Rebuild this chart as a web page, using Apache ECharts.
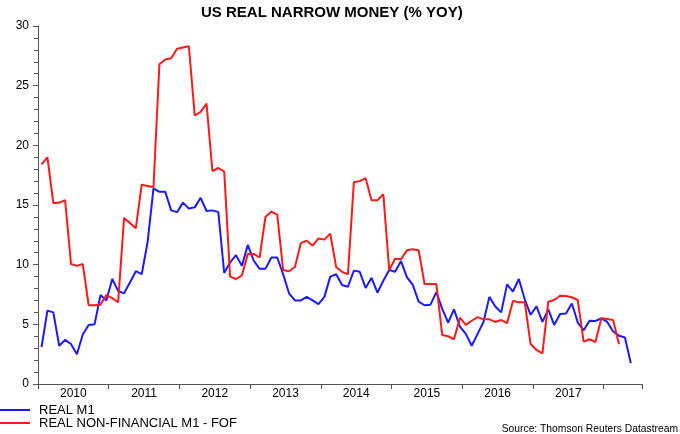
<!DOCTYPE html>
<html>
<head>
<meta charset="utf-8">
<script src="https://cdn.jsdelivr.net/npm/echarts@6/dist/echarts.min.js"></script>
<style>
html,body{margin:0;padding:0;background:#fff;}
#chart{width:680px;height:434px;}
</style>
</head>
<body>
<div id="chart"></div>
<script>
// Monthly data, Jan 2010 onwards
var startYear = 2010;
var yearLabels = ['2010','2011','2012','2013','2014','2015','2016','2017'];

var realM1 = [
  3.1, 6.15, 6.0, 3.2, 3.7, 3.35, 2.5, 4.15, 4.95, 5.0, 7.45, 7.0,
  8.8, 7.8, 7.6, 8.5, 9.45, 9.2, 11.9, 16.4, 16.1, 16.1, 14.55, 14.4,
  15.2, 14.7, 14.8, 15.6, 14.5, 14.55, 14.4, 9.3, 10.2, 10.8, 9.9, 11.65,
  10.35, 9.65, 9.65, 10.6, 10.6, 9.2, 7.6, 7.0, 7.0, 7.3, 7.0, 6.7,
  7.3, 9.0, 9.2, 8.3, 8.15, 9.5, 9.4, 8.05, 8.9, 7.65, 8.65, 9.55,
  9.4, 10.3, 8.95, 8.3, 6.9, 6.6, 6.65, 7.7, 6.3, 5.15, 6.25, 4.8,
  4.2, 3.2, 4.2, 5.2, 7.3, 6.5, 6.0, 8.35, 7.75, 8.8, 7.1, 5.8,
  6.5, 5.2, 6.25, 4.95, 5.87, 5.9, 6.75, 5.15, 4.5, 5.3, 5.28, 5.5,
  5.2, 4.4, 4.05, 3.9, 1.75
];

var realNonFinM1 = [
  18.4, 19.0, 15.15, 15.2, 15.4, 10.05, 9.9, 10.05, 6.6, 6.6, 6.65, 7.45,
  7.2, 6.85, 13.9, 13.5, 13.05, 16.7, 16.6, 16.5, 26.8, 27.2, 27.3, 28.1,
  28.2, 28.3, 22.5, 22.8, 23.5, 17.85, 18.1, 17.8, 9.0, 8.8, 9.1, 10.9,
  10.9, 10.6, 14.0, 14.45, 14.2, 9.55, 9.45, 9.8, 11.8, 12.0, 11.6, 12.2,
  12.1, 12.6, 9.8, 9.4, 9.2, 16.9, 17.0, 17.25, 15.4, 15.4, 15.9, 9.55,
  10.5, 10.45, 11.2, 11.3, 11.2, 8.38, 8.38, 8.38, 4.1, 4.0, 3.75, 5.56,
  4.95, 5.3, 5.6, 5.42, 5.42, 5.2, 5.36, 5.1, 6.96, 6.85, 6.85, 3.35,
  2.85, 2.57, 6.9, 7.04, 7.4, 7.38, 7.27, 7.04, 3.55, 3.75, 3.52, 5.5,
  5.45, 5.36, 3.33
];

// month position of each observation (months since Jan 2010, plotted late in the month)
function toPoints(arr) {
  return arr.map(function (v, i) { return [i + 0.6, v]; });
}

var yearTicks = [];
for (var k = 0; k <= yearLabels.length; k++) yearTicks.push(k * 12);
var axisEnd = 102.5;
var labelPos = yearLabels.map(function (y, k) { return k * 12 + 6; });

var chart = echarts.init(document.getElementById('chart'), null, {renderer: 'canvas'});
var FONT = 'Liberation Sans, Arial, sans-serif';

chart.setOption({
  animation: false,
  backgroundColor: '#ffffff',
  title: {
    text: 'US REAL NARROW MONEY (% YOY)',
    left: 196,
    top: 0,
    textStyle: {fontFamily: FONT, fontSize: 15, fontWeight: 'bold', color: '#000'}
  },
  legend: {
    orient: 'vertical',
    left: 0,
    top: 403.5,
    padding: 0,
    itemWidth: 30,
    itemHeight: 2,
    itemGap: 0,
    icon: 'rect',
    textStyle: {fontFamily: FONT, fontSize: 13, color: '#000', lineHeight: 11.5, padding: [0, 0, 0, 4]},
    data: ['REAL M1', 'REAL NON-FINANCIAL M1 - FOF']
  },
  graphic: [{
    type: 'text',
    right: 2,
    top: 424,
    style: {text: 'Source: Thomson Reuters Datastream', font: '10.3px ' + FONT, fill: '#000'}
  }],
  grid: {left: 38, right: 38, top: 26, bottom: 50, containLabel: false, outerBoundsMode: 'none'},
  xAxis: {
    type: 'value',
    min: 0,
    max: axisEnd,
    splitLine: {show: false},
    axisLine: {lineStyle: {color: '#555', width: 1}},
    axisTick: {
      show: true,
      length: 5,
      lineStyle: {color: '#555'},
      customValues: yearTicks.concat([axisEnd])
    },
    axisLabel: {
      customValues: labelPos,
      margin: 4,
      fontFamily: FONT,
      fontSize: 12,
      color: '#000',
      formatter: function (v) { return yearLabels[Math.round((v - 6) / 12)]; }
    }
  },
  yAxis: {
    type: 'value',
    min: 0,
    max: 30,
    interval: 5,
    splitLine: {show: false},
    axisLine: {show: true, lineStyle: {color: '#555', width: 1}},
    axisTick: {show: true, length: 5, lineStyle: {color: '#555'}},
    minorTick: {show: true, splitNumber: 5, length: 4, lineStyle: {color: '#555'}},
    axisLabel: {fontFamily: FONT, fontSize: 12, color: '#000', margin: 9, padding: [0, 0, 7, 0]}
  },
  series: [
    {
      name: 'REAL M1',
      type: 'line',
      data: toPoints(realM1),
      showSymbol: false,
      color: '#1a1aff',
      lineStyle: {color: '#1a1aff', width: 2}
    },
    {
      name: 'REAL NON-FINANCIAL M1 - FOF',
      type: 'line',
      data: toPoints(realNonFinM1),
      showSymbol: false,
      color: '#ff1a1a',
      lineStyle: {color: '#ff1a1a', width: 2}
    }
  ]
});
</script>
</body>
</html>
